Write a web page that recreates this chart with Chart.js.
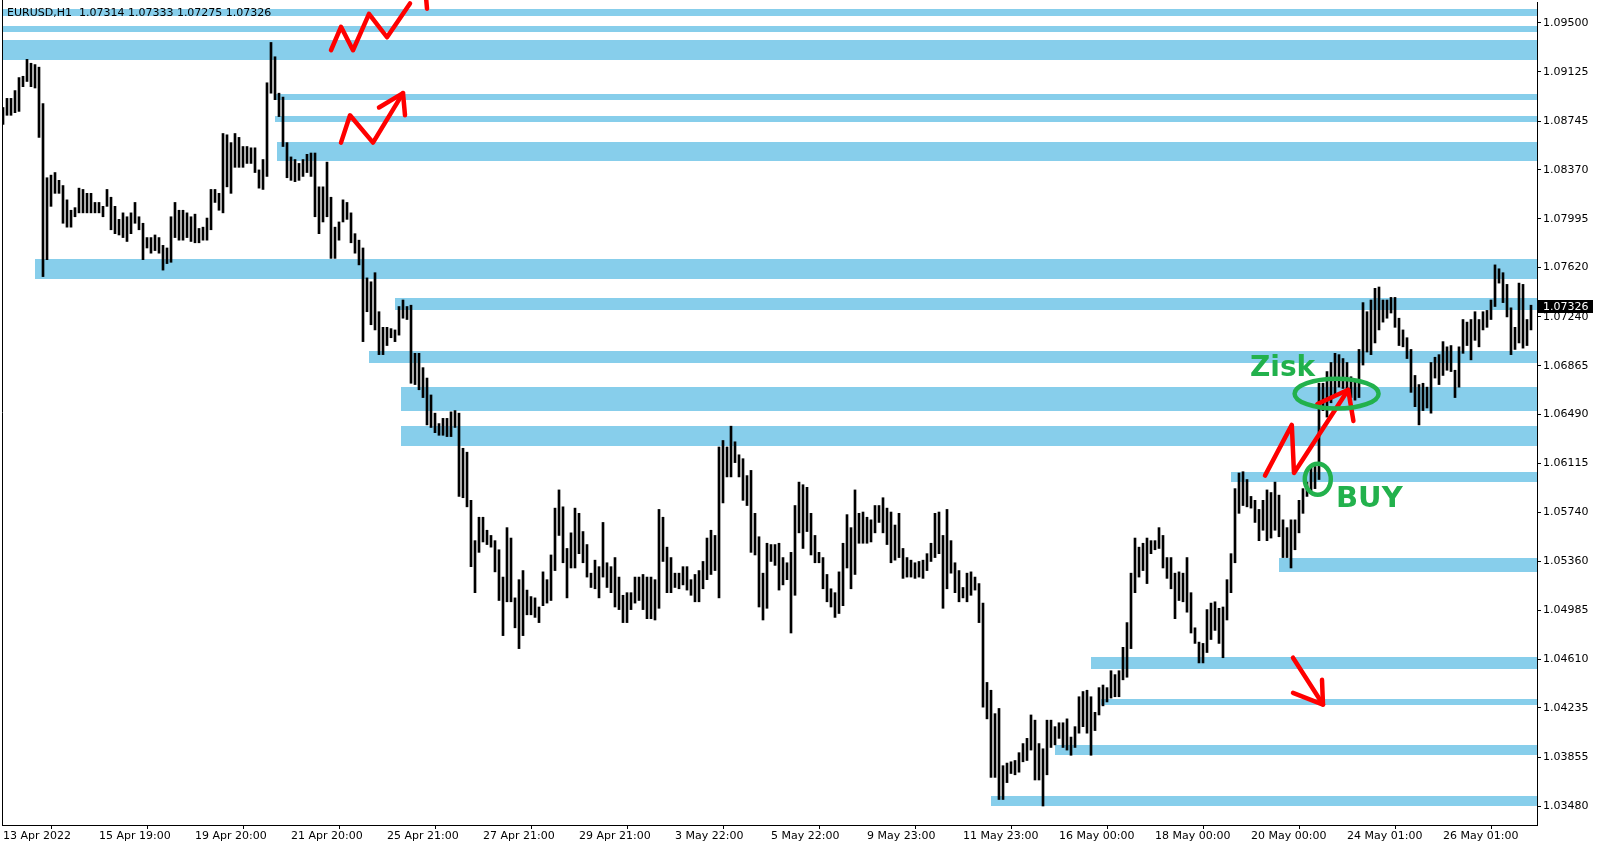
<!DOCTYPE html>
<html lang="en">
<head>
<meta charset="UTF-8">
<title>EURUSD,H1</title>
<script src="https://cdn.jsdelivr.net/npm/chart.js/dist/chart.umd.min.js"></script>
<style>
  html, body { margin: 0; padding: 0; background: #fff; }
</style>
</head>
<body>
<canvas id="chart" width="1601" height="850"></canvas>
<script>
// EURUSD H1, one entry per 2 hours
const highs = [
  1.0885,1.0892,1.0892,1.0898,1.0908,1.0909,1.0922,1.0919,1.0918,1.0916,
  1.0888,1.0831,1.0833,1.0835,1.0829,1.0825,1.0814,1.0806,1.0808,1.0823,
  1.0822,1.0819,1.0819,1.0812,1.0812,1.0809,1.0822,1.0816,1.0809,1.0799,
  1.0804,1.0801,1.0804,1.0812,1.0801,1.0796,1.0785,1.0785,1.0787,1.0785,
  1.0779,1.0777,1.0801,1.0812,1.0806,1.0806,1.0804,1.0801,1.0803,1.0792,
  1.0793,1.0800,1.0822,1.0822,1.0819,1.0865,1.0864,1.0858,1.0865,1.0862,
  1.0855,1.0855,1.0854,1.0854,1.0837,1.0845,1.0904,1.0935,1.0924,1.0896,
  1.0893,1.0858,1.0847,1.0845,1.0842,1.0845,1.0849,1.0850,1.0850,1.0824,
  1.0824,1.0843,1.0816,1.0793,1.0797,1.0814,1.0812,1.0804,1.0788,1.0783,
  1.0777,1.0754,1.0751,1.0758,1.0728,1.0716,1.0716,1.0715,1.0714,1.0732,
  1.0737,1.0732,1.0733,1.0696,1.0696,1.0685,1.0677,1.0664,1.0650,1.0642,
  1.0646,1.0646,1.0651,1.0652,1.0650,1.0623,1.0620,1.0583,1.0552,1.0570,
  1.0570,1.0560,1.0556,1.0552,1.0545,1.0524,1.0562,1.0554,1.0508,1.0522,
  1.0529,1.0514,1.0509,1.0508,1.0501,1.0528,1.0522,1.0541,1.0577,1.0591,
  1.0578,1.0546,1.0558,1.0577,1.0573,1.0559,1.0549,1.0527,1.0537,1.0532,
  1.0566,1.0535,1.0532,1.0539,1.0524,1.0510,1.0512,1.0512,1.0524,1.0524,
  1.0526,1.0524,1.0524,1.0522,1.0576,1.0570,1.0547,1.0539,1.0527,1.0527,
  1.0532,1.0532,1.0522,1.0526,1.0529,1.0536,1.0554,1.0560,1.0556,1.0624,
  1.0629,1.0624,1.0640,1.0628,1.0618,1.0615,1.0602,1.0606,1.0573,1.0555,
  1.0527,1.0550,1.0549,1.0549,1.0550,1.0539,1.0535,1.0543,1.0579,1.0597,
  1.0595,1.0593,1.0573,1.0556,1.0543,1.0539,1.0526,1.0515,1.0512,1.0528,
  1.0550,1.0572,1.0562,1.0591,1.0573,1.0574,1.0570,1.0568,1.0579,1.0579,
  1.0585,1.0577,1.0574,1.0564,1.0573,1.0546,1.0539,1.0537,1.0535,1.0536,
  1.0537,1.0542,1.0550,1.0573,1.0574,1.0556,1.0576,1.0552,1.0535,1.0529,
  1.0516,1.0527,1.0528,1.0524,1.0519,1.0504,1.0443,1.0437,1.0419,1.0423,
  1.0379,1.0381,1.0382,1.0383,1.0389,1.0396,1.0400,1.0418,1.0414,1.0396,
  1.0392,1.0414,1.0414,1.0409,1.0412,1.0412,1.0415,1.0401,1.0409,1.0432,
  1.0436,1.0437,1.0432,1.0420,1.0439,1.0441,1.0439,1.0452,1.0449,1.0452,
  1.0470,1.0489,1.0527,1.0554,1.0547,1.0550,1.0554,1.0552,1.0552,1.0562,
  1.0556,1.0539,1.0539,1.0527,1.0528,1.0527,1.0539,1.0512,1.0485,1.0474,
  1.0473,1.0499,1.0504,1.0505,1.0500,1.0501,1.0522,1.0542,1.0592,1.0604,
  1.0605,1.0599,1.0586,1.0583,1.0576,1.0583,1.0591,1.0589,1.0597,1.0587,
  1.0568,1.0562,1.0568,1.0568,1.0583,1.0592,1.0597,1.0609,1.0609,1.0673,
  1.0673,1.0682,1.0689,1.0696,1.0695,1.0692,1.0689,1.0678,1.0675,1.0699,
  1.0735,1.0728,1.0737,1.0746,1.0747,1.0737,1.0737,1.0739,1.0739,1.0723,
  1.0714,1.0708,1.0699,1.0679,1.0672,1.0673,1.0670,1.0689,1.0693,1.0695,
  1.0705,1.0701,1.0702,1.0683,1.0701,1.0722,1.0720,1.0722,1.0728,1.0722,
  1.0728,1.0729,1.0737,1.0764,1.0761,1.0758,1.0749,1.0731,1.0716,1.0750,
  1.0749,1.0722,1.0733
];
const lows = [
  1.0872,1.0879,1.0879,1.0881,1.0882,1.0901,1.0905,1.0901,1.0900,1.0862,
  1.0755,1.0768,1.0809,1.0819,1.0819,1.0796,1.0793,1.0793,1.0801,1.0804,
  1.0804,1.0804,1.0804,1.0804,1.0804,1.0801,1.0809,1.0791,1.0788,1.0787,
  1.0785,1.0782,1.0788,1.0796,1.0791,1.0768,1.0777,1.0773,1.0775,1.0773,
  1.0760,1.0765,1.0766,1.0785,1.0783,1.0783,1.0785,1.0782,1.0781,1.0781,
  1.0783,1.0783,1.0791,1.0812,1.0806,1.0804,1.0824,1.0819,1.0839,1.0839,
  1.0839,1.0842,1.0842,1.0835,1.0823,1.0822,1.0832,1.0896,1.0891,1.0878,
  1.0855,1.0831,1.0829,1.0828,1.0829,1.0832,1.0835,1.0832,1.0801,1.0788,
  1.0797,1.0801,1.0769,1.0769,1.0783,1.0797,1.0799,1.0781,1.0773,1.0764,
  1.0705,1.0728,1.0718,1.0714,1.0695,1.0695,1.0702,1.0708,1.0705,1.0710,
  1.0723,1.0722,1.0673,1.0672,1.0668,1.0662,1.0641,1.0639,1.0635,1.0633,
  1.0633,1.0632,1.0632,1.0639,1.0586,1.0585,1.0578,1.0532,1.0512,1.0543,
  1.0551,1.0549,1.0547,1.0528,1.0506,1.0479,1.0505,1.0505,1.0485,1.0469,
  1.0479,1.0495,1.0495,1.0493,1.0489,1.0502,1.0504,1.0506,1.0529,1.0556,
  1.0535,1.0508,1.0531,1.0531,1.0542,1.0535,1.0524,1.0516,1.0515,1.0508,
  1.0524,1.0516,1.0512,1.0501,1.0499,1.0489,1.0489,1.0499,1.0504,1.0506,
  1.0499,1.0492,1.0492,1.0491,1.0500,1.0536,1.0512,1.0512,1.0516,1.0515,
  1.0518,1.0514,1.0510,1.0505,1.0505,1.0515,1.0522,1.0526,1.0529,1.0508,
  1.0581,1.0601,1.0601,1.0612,1.0601,1.0583,1.0579,1.0543,1.0541,1.0501,
  1.0491,1.0500,1.0536,1.0533,1.0514,1.0518,1.0522,1.0481,1.0510,1.0558,
  1.0546,1.0559,1.0541,1.0535,1.0535,1.0515,1.0505,1.0501,1.0493,1.0496,
  1.0502,1.0531,1.0515,1.0526,1.0550,1.0550,1.0550,1.0551,1.0558,1.0566,
  1.0558,1.0549,1.0535,1.0537,1.0539,1.0523,1.0524,1.0524,1.0523,1.0524,
  1.0523,1.0529,1.0536,1.0539,1.0542,1.0500,1.0515,1.0527,1.0512,1.0505,
  1.0508,1.0505,1.0510,1.0514,1.0489,1.0424,1.0415,1.0370,1.0370,1.0353,
  1.0353,1.0366,1.0373,1.0372,1.0374,1.0382,1.0383,1.0391,1.0368,1.0368,
  1.0348,1.0372,1.0393,1.0395,1.0400,1.0393,1.0391,1.0387,1.0393,1.0404,
  1.0409,1.0404,1.0387,1.0406,1.0418,1.0425,1.0428,1.0431,1.0432,1.0432,
  1.0445,1.0447,1.0469,1.0512,1.0524,1.0529,1.0519,1.0542,1.0545,1.0546,
  1.0531,1.0523,1.0515,1.0492,1.0506,1.0505,1.0497,1.0481,1.0473,1.0458,
  1.0458,1.0466,1.0476,1.0483,1.0473,1.0462,1.0491,1.0512,1.0535,1.0573,
  1.0579,1.0578,1.0577,1.0566,1.0552,1.0560,1.0552,1.0554,1.0560,1.0555,
  1.0539,1.0539,1.0531,1.0545,1.0558,1.0573,1.0586,1.0589,1.0592,1.0599,
  1.0652,1.0647,1.0658,1.0664,1.0670,1.0669,1.0668,1.0662,1.0660,1.0662,
  1.0687,1.0697,1.0695,1.0704,1.0714,1.0720,1.0723,1.0727,1.0716,1.0702,
  1.0701,1.0692,1.0666,1.0655,1.0641,1.0652,1.0654,1.0650,1.0677,1.0672,
  1.0679,1.0683,1.0682,1.0662,1.0670,1.0696,1.0702,1.0691,1.0706,1.0701,
  1.0714,1.0716,1.0722,1.0732,1.0750,1.0735,1.0724,1.0695,1.0699,1.0704,
  1.0700,1.0702,1.0714
];

// time axis: one label every 24 bars
const timeLabels = ['13 Apr 2022', '15 Apr 19:00', '19 Apr 20:00', '21 Apr 20:00', '25 Apr 21:00',
  '27 Apr 21:00', '29 Apr 21:00', '3 May 22:00', '5 May 22:00', '9 May 23:00', '11 May 23:00',
  '16 May 00:00', '18 May 00:00', '20 May 00:00', '24 May 01:00', '26 May 01:00'];
const labelStep = 24;

const priceTicks = [1.09500, 1.09125, 1.08745, 1.08370, 1.07995, 1.07620, 1.07240, 1.06865,
  1.06490, 1.06115, 1.05740, 1.05360, 1.04985, 1.04610, 1.04235, 1.03855, 1.03480];

const header = 'EURUSD,H1  1.07314 1.07333 1.07275 1.07326';
const lastPrice = 1.07326;

// support / resistance zones: start bar, top price, bottom price
const zoneStart  = [-0.25, -0.25, -0.25, 68, 68, 68.5, 8, 98, 91.5, 99.5, 99.5, 307, 319, 272, 274.5, 263, 247];
const zoneTop    = [1.09604, 1.09473, 1.09369, 1.08954, 1.08785, 1.08585, 1.07685, 1.07385, 1.06978,
  1.06701, 1.06401, 1.06051, 1.05386, 1.04625, 1.04306, 1.03948, 1.03556];
const zoneBottom = [1.09554, 1.09431, 1.09216, 1.08908, 1.08739, 1.08435, 1.07531, 1.07293, 1.06886,
  1.06516, 1.06247, 1.05974, 1.05278, 1.04532, 1.04259, 1.03871, 1.03479];

// hand drawn marks, [bar, price]
const redStrokes = [
  [[82, 1.0929], [84.5, 1.0947], [87.5, 1.0929], [91.5, 1.0957], [96, 1.0939], [101.75, 1.0965]],
  [[105.8, 1.0968], [106, 1.0961]],
  [[84.5, 1.0858], [86.75, 1.0879], [92.5, 1.0858], [100, 1.0896]],
  [[94, 1.0885], [100, 1.0896], [100.5, 1.0879]],
  [[315.5, 1.0602], [322.2, 1.0641], [322.75, 1.0604], [336.3, 1.0668]],
  [[328.6, 1.0657], [336.3, 1.0668], [337.6, 1.0644]],
  [[322.5, 1.0462], [330, 1.0426]],
  [[322.5, 1.0435], [330, 1.0426], [329.75, 1.0445]]
];
const greenRings = [
  { at: [333.4, 1.06650], rx: 10.5, ry: 0.00115 },
  { at: [328.7, 1.05992], rx: 3.25, ry: 0.00119 }
];
const greenLabels = [
  { text: 'Zisk', at: [311.75, 1.06786], size: 28 },
  { text: 'BUY', at: [333.25, 1.05779], size: 29 }
];

const RED = '#ff0000';
const GREEN = '#22b14c';
const ZONE = '#87ceeb';

const zonesPlugin = {
  id: 'zones',
  beforeDatasetsDraw(chart) {
    const { ctx, chartArea, scales: { x, y } } = chart;
    ctx.save();
    ctx.fillStyle = ZONE;
    zoneStart.forEach((s, i) => {
      const x0 = Math.max(chartArea.left, Math.round(x.getPixelForValue(s)));
      const y0 = Math.round(y.getPixelForValue(zoneTop[i]));
      const y1 = Math.round(y.getPixelForValue(zoneBottom[i]));
      ctx.fillRect(x0, y0, chartArea.right - x0, y1 - y0);
    });
    ctx.restore();
  }
};

const marksPlugin = {
  id: 'marks',
  afterDatasetsDraw(chart) {
    const { ctx, scales: { x, y } } = chart;
    ctx.save();
    ctx.strokeStyle = RED;
    ctx.lineWidth = 4.5;
    ctx.lineJoin = 'round';
    ctx.lineCap = 'round';
    redStrokes.forEach(pts => {
      ctx.beginPath();
      pts.forEach((p, k) => {
        const px = x.getPixelForValue(p[0]), py = y.getPixelForValue(p[1]);
        if (k === 0) ctx.moveTo(px, py); else ctx.lineTo(px, py);
      });
      ctx.stroke();
    });

    ctx.strokeStyle = GREEN;
    ctx.lineWidth = 4.5;
    greenRings.forEach(r => {
      const cx = x.getPixelForValue(r.at[0]), cy = y.getPixelForValue(r.at[1]);
      const rx = x.getPixelForValue(r.at[0] + r.rx) - cx;
      const ry = cy - y.getPixelForValue(r.at[1] + r.ry);
      ctx.beginPath();
      ctx.ellipse(cx, cy, rx, ry, 0, 0, Math.PI * 2);
      ctx.stroke();
    });

    ctx.fillStyle = GREEN;
    ctx.textBaseline = 'alphabetic';
    greenLabels.forEach(l => {
      ctx.font = 'bold ' + l.size + 'px "DejaVu Sans", Verdana, sans-serif';
      ctx.fillText(l.text, x.getPixelForValue(l.at[0]), y.getPixelForValue(l.at[1]));
    });
    ctx.restore();
  },
  afterDraw(chart) {
    const { ctx, chartArea, scales: { y } } = chart;
    ctx.save();
    // left frame line
    ctx.strokeStyle = '#000';
    ctx.lineWidth = 1;
    ctx.beginPath();
    ctx.moveTo(chartArea.left + 0.5, chartArea.top - 2);
    ctx.lineTo(chartArea.left + 0.5, chartArea.bottom);
    ctx.stroke();

    // symbol header
    ctx.fillStyle = '#000';
    ctx.font = '11px "DejaVu Sans", sans-serif';
    ctx.textBaseline = 'middle';
    ctx.textAlign = 'left';
    ctx.fillText(header, 7, 13);

    // current price marker
    const py = Math.round(y.getPixelForValue(lastPrice));
    ctx.fillStyle = '#000';
    ctx.fillRect(chartArea.right + 1, py - 6, 55, 13);
    ctx.fillStyle = '#fff';
    ctx.fillText(lastPrice.toFixed(5), chartArea.right + 6, py + 1);
    ctx.restore();
  }
};

const axisFont = { family: '"DejaVu Sans", sans-serif', size: 11 };

const chart = new Chart(document.getElementById('chart'), {
  type: 'bar',
  data: {
    datasets: [{
      data: highs.map((h, i) => ({ x: i, y: [lows[i], h] })),
      backgroundColor: '#000',
      borderWidth: 0,
      barThickness: 2
    }]
  },
  options: {
    responsive: false,
    animation: false,
    events: [],
    layout: { padding: { left: 2, top: 2, right: 0, bottom: 0 } },
    plugins: {
      legend: { display: false },
      tooltip: { enabled: false }
    },
    scales: {
      x: {
        type: 'linear',
        offset: false,
        min: -0.25,
        max: 383.5,
        afterBuildTicks: s => { s.ticks = timeLabels.map((_, k) => ({ value: k * labelStep })); },
        afterFit: s => { s.height = 25; s.paddingLeft = 0; s.paddingRight = 0; },
        grid: { display: true, drawOnChartArea: false, drawTicks: true, tickLength: 4, color: '#000' },
        border: { display: true, color: '#000' },
        ticks: {
          align: 'start',
          padding: 1,
          maxRotation: 0,
          autoSkip: false,
          color: '#000',
          font: axisFont,
          callback: v => timeLabels[Math.round(v / labelStep)]
        }
      },
      y: {
        position: 'right',
        min: 1.03334,
        max: 1.09661,
        afterBuildTicks: s => { s.ticks = priceTicks.map(v => ({ value: v })); },
        afterFit: s => { s.width = 64; s.paddingTop = 0; s.paddingBottom = 0; },
        grid: { display: true, drawOnChartArea: false, drawTicks: true, tickLength: 4, color: '#000' },
        border: { display: true, color: '#000' },
        ticks: {
          padding: 2,
          autoSkip: false,
          color: '#000',
          font: axisFont,
          callback: v => v.toFixed(5)
        }
      }
    }
  },
  plugins: [zonesPlugin, marksPlugin]
});
</script>
</body>
</html>
